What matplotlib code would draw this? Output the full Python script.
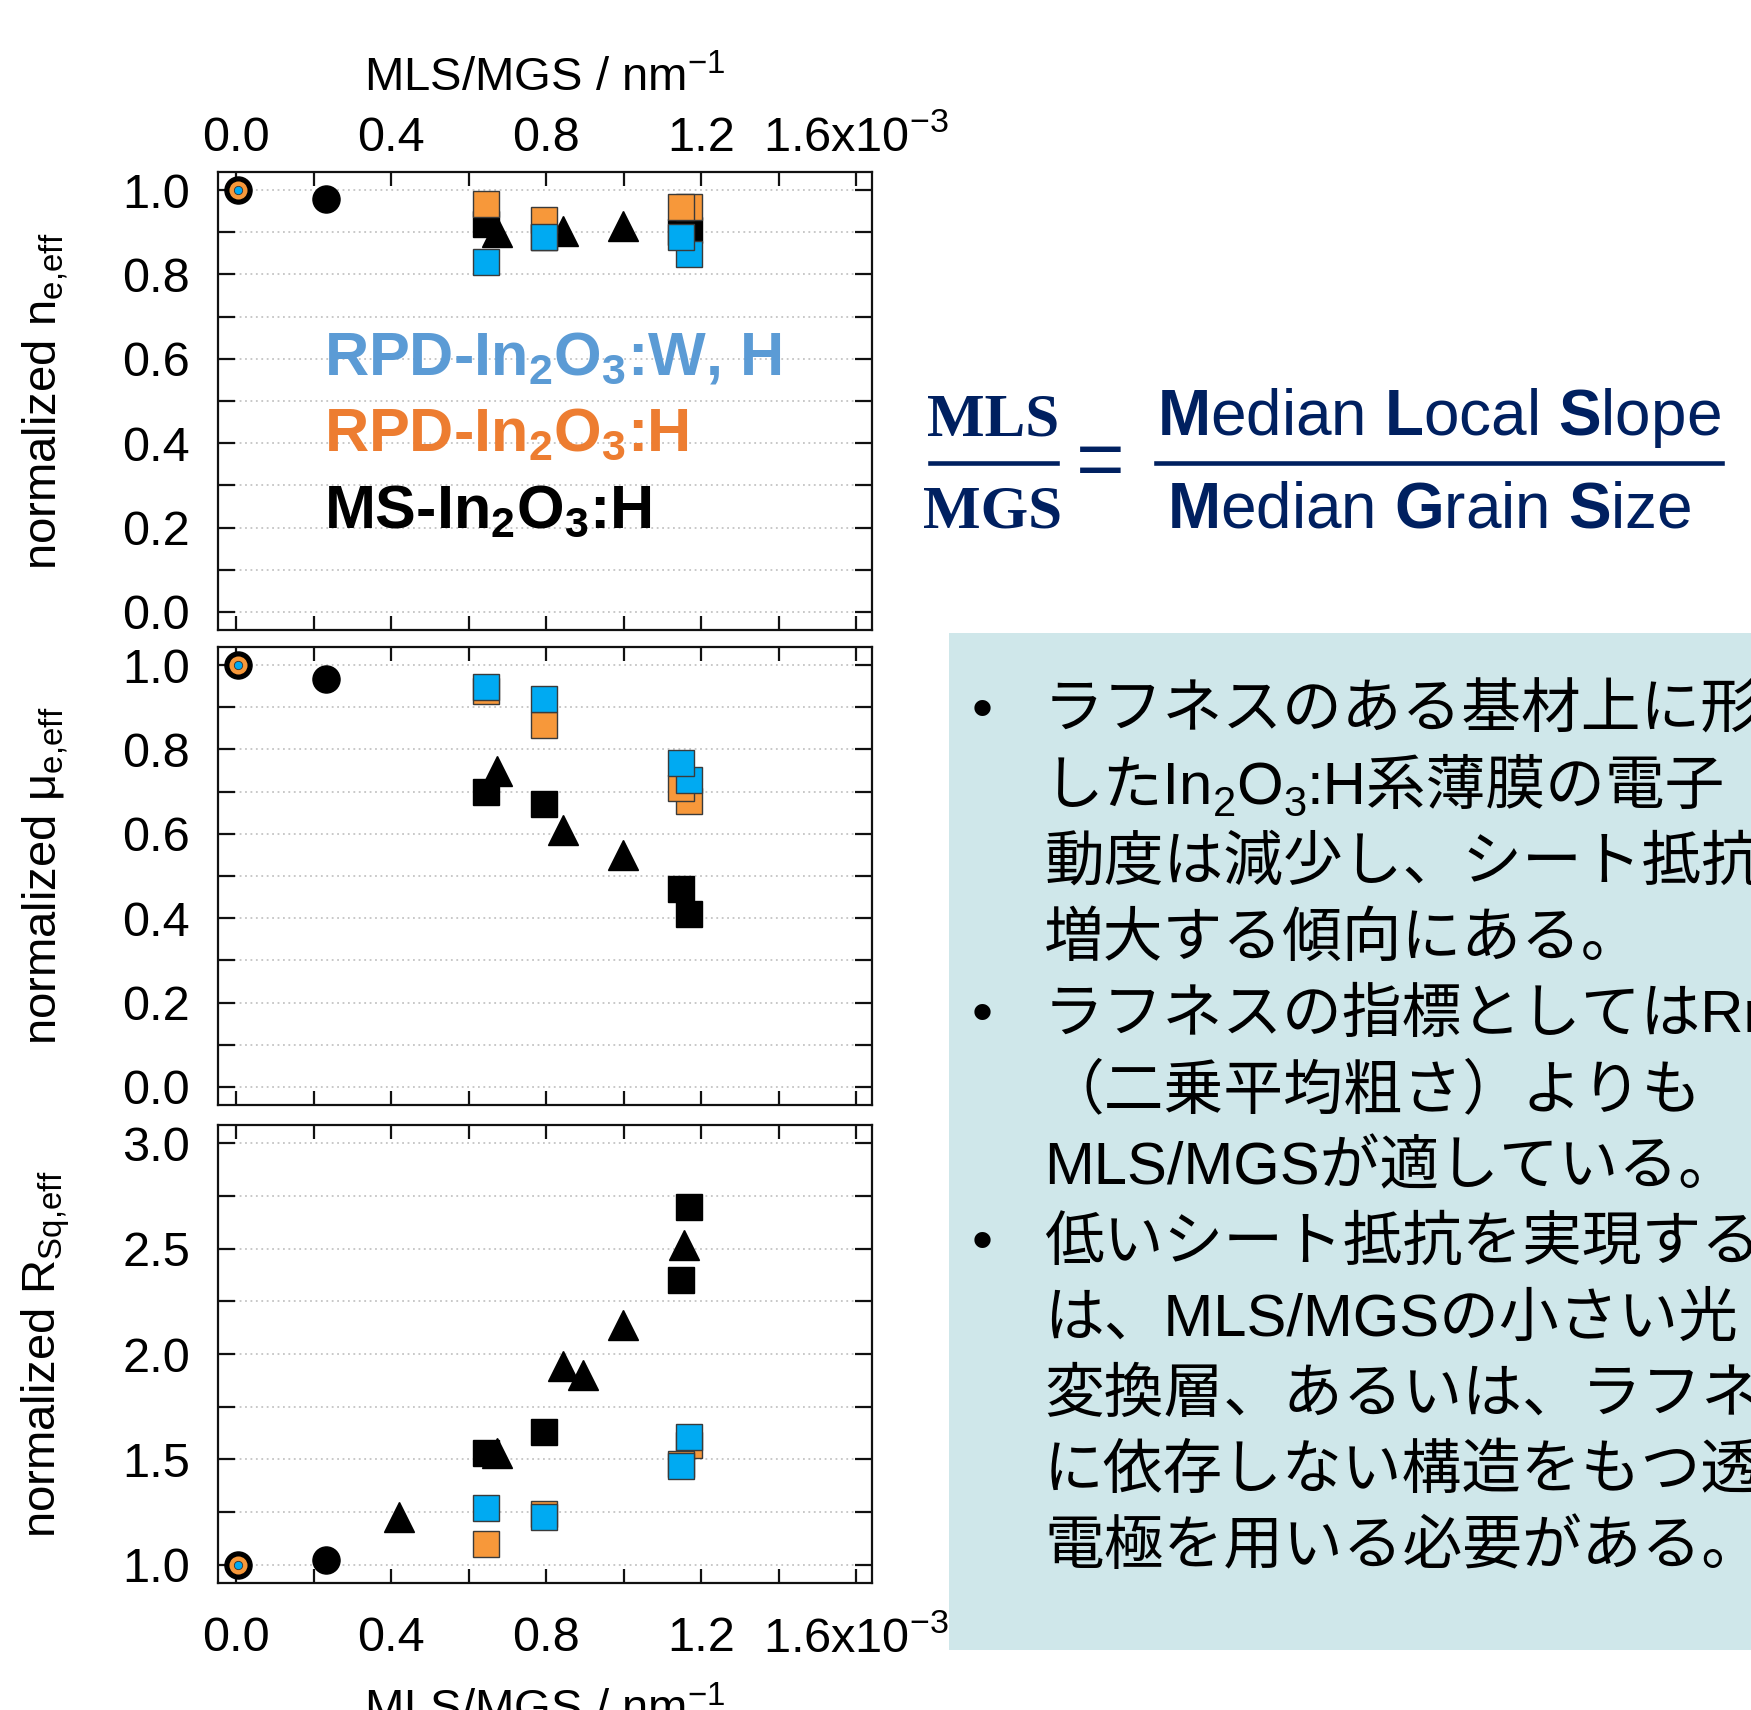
import matplotlib
matplotlib.use("Agg")
import matplotlib.pyplot as plt
from matplotlib.ticker import FixedLocator, FixedFormatter, MultipleLocator, FormatStrFormatter
from matplotlib.patches import Rectangle
from matplotlib.lines import Line2D

plt.rcParams['font.family'] = ['Liberation Sans', 'DejaVu Sans']
plt.rcParams['mathtext.fontset'] = 'custom'
plt.rcParams['mathtext.rm'] = 'Liberation Sans'
plt.rcParams['mathtext.bf'] = 'Liberation Sans:bold'
plt.rcParams['mathtext.it'] = 'Liberation Sans:italic'

# x values in units of 1e-3 nm^-1
ref_x = [0.005]
ref_y = [1.0]

# MS-In2O3:H, round marker
ms_circ_x = [0.233]
ms_circ_ne = [0.979]
ms_circ_mu = [0.968]
ms_circ_rsq = [1.02]

# MS-In2O3:H, squares
ms_sq_x = [0.646, 0.795, 1.148, 1.169]
ms_sq_ne = [0.92, 0.89, 0.90, 0.905]
ms_sq_mu = [0.70, 0.67, 0.47, 0.41]
ms_sq_rsq = [1.53, 1.628, 2.349, 2.70]

# MS-In2O3:H, triangles
ms_tri_x_ne = [0.672, 0.844, 0.998]
ms_tri_ne = [0.90, 0.904, 0.916]
ms_tri_x_mu = [0.672, 0.844, 0.998]
ms_tri_mu = [0.749, 0.609, 0.549]
ms_tri_x_rsq = [0.419, 0.672, 0.844, 0.895, 0.998, 1.157]
ms_tri_rsq = [1.226, 1.53, 1.944, 1.90, 2.138, 2.518]

# RPD-In2O3:H (orange) and RPD-In2O3:W,H (blue)
rpd_x = [0.646, 0.795, 1.169, 1.148]
rpd_h_ne = [0.966, 0.929, 0.959, 0.959]
rpd_h_mu = [0.939, 0.858, 0.678, 0.709]
rpd_h_rsq = [1.10, 1.24, 1.569, 1.48]
rpd_w_ne = [0.83, 0.89, 0.848, 0.889]
rpd_w_mu = [0.949, 0.919, 0.728, 0.769]
rpd_w_rsq = [1.269, 1.226, 1.606, 1.47]

x_ticks = [0.0, 0.4, 0.8, 1.2, 1.6]
x_ticklabels = ['0.0', '0.4', '0.8', '1.2', r'$\mathregular{1.6x10^{-3}}$']

ORANGE = '#F7983A'
BLUE = '#00AAF2'
NAVY = '#002060'

W, H = 1751, 1710
fig = plt.figure(figsize=(W / 100, H / 100), dpi=100)


def fx(px):
    return px / W


def fy(py):
    return 1 - py / H


def make_axes(top, bottom):
    return fig.add_axes([fx(218), fy(bottom), fx(872) - fx(218), (bottom - top) / H])


def style_axes(ax, ylim, ymajor, yminor):
    ax.set_xlim(-0.047, 1.641)
    ax.set_ylim(*ylim)
    ax.xaxis.set_major_locator(FixedLocator(x_ticks))
    ax.xaxis.set_major_formatter(FixedFormatter(x_ticklabels))
    ax.xaxis.set_minor_locator(FixedLocator([0.2, 0.6, 1.0, 1.4]))
    ax.yaxis.set_major_locator(MultipleLocator(ymajor))
    ax.yaxis.set_minor_locator(MultipleLocator(yminor))
    ax.yaxis.set_major_formatter(FormatStrFormatter('%.1f'))
    ax.tick_params(axis='both', which='both', direction='in', top=True, right=True,
                   width=1.6, colors='#111111', labelcolor='black', labelsize=35)
    ax.tick_params(axis='x', which='both', length=10)
    ax.tick_params(axis='y', which='both', length=12, pad=20)
    ax.tick_params(axis='x', labelbottom=False, labeltop=False)
    for sp in ax.spines.values():
        sp.set_linewidth(1.6)
        sp.set_color('#111111')
    ax.grid(axis='y', which='both', linestyle=(0, (1, 2)), color='#c4c4c4', lw=1.3)
    ax.set_axisbelow(True)


def draw_points(ax, circ_y, sq_y, tri_x, tri_y, h_y, w_y):
    ax.plot(ms_circ_x, circ_y, 'o', ms=19.5, color='black', zorder=3)
    ax.plot(ms_sq_x, sq_y, 's', ms=19, color='black', zorder=3)
    ax.plot(tri_x, tri_y, '^', ms=21, color='black', zorder=3)
    ax.plot(rpd_x, h_y, 's', ms=19, mfc=ORANGE, mec='#3a3a3a', mew=1.0, zorder=4)
    ax.plot(rpd_x, w_y, 's', ms=19, mfc=BLUE, mec='#3a3a3a', mew=1.0, zorder=5)
    # reference point shared by all three series
    ax.plot(ref_x, ref_y, 'o', ms=19.5, color='black', zorder=6)
    ax.plot(ref_x, ref_y, 'o', ms=13, mfc=ORANGE, mec='none', zorder=7)
    ax.plot(ref_x, ref_y, 'o', ms=6, mfc=BLUE, mec='#333333', mew=0.6, zorder=8)


ax1 = make_axes(172, 630)
ax2 = make_axes(647, 1105)
ax3 = make_axes(1125, 1583)

style_axes(ax1, (-0.043, 1.043), 0.2, 0.1)
style_axes(ax2, (-0.043, 1.043), 0.2, 0.1)
style_axes(ax3, (0.913, 3.087), 0.5, 0.25)
ax1.tick_params(axis='x', labeltop=True, pad=8)
ax3.tick_params(axis='x', labelbottom=True, pad=24)

draw_points(ax1, ms_circ_ne, ms_sq_ne, ms_tri_x_ne, ms_tri_ne, rpd_h_ne, rpd_w_ne)
draw_points(ax2, ms_circ_mu, ms_sq_mu, ms_tri_x_mu, ms_tri_mu, rpd_h_mu, rpd_w_mu)
draw_points(ax3, ms_circ_rsq, ms_sq_rsq, ms_tri_x_rsq, ms_tri_rsq, rpd_h_rsq, rpd_w_rsq)

# axis titles
fig.text(fx(545), fy(91.6), r'MLS/MGS / $\mathregular{nm^{-1}}$', ha='center', va='baseline', fontsize=34)
fig.text(fx(545), fy(1723), r'MLS/MGS / $\mathregular{nm^{-1}}$', ha='center', va='baseline', fontsize=34)
ylabels = [r'normalized $\mathregular{n_{e{,}eff}}$',
           r'normalized $\mathregular{μ_{e{,}eff}}$',
           r'normalized $\mathregular{R_{Sq{,}eff}}$']
for lab, (t, b) in zip(ylabels, [(172, 630), (647, 1105), (1125, 1583)]):
    fig.text(fx(46), fy((t + b) / 2), lab, rotation=90, ha='center', va='center', fontsize=34)

# series labels
series_labels = [r'RPD-In$\mathregular{_2}$O$\mathregular{_3}$:W, H',
                 r'RPD-In$\mathregular{_2}$O$\mathregular{_3}$:H',
                 r'MS-In$\mathregular{_2}$O$\mathregular{_3}$:H']
series_colors = ['#5B9BD5', '#ED7D31', 'black']
for i, (lab, c) in enumerate(zip(series_labels, series_colors)):
    fig.text(fx(324), fy(374 + 76.5 * i), lab, color=c, fontsize=44, fontweight='bold',
             ha='left', va='baseline')

# MLS / MGS definition
fig.text(fx(993), fy(435.5), 'MLS', family='Liberation Serif', fontweight='bold',
         fontsize=44, color=NAVY, ha='center', va='baseline')
fig.text(fx(993), fy(527), 'MGS', family='Liberation Serif', fontweight='bold',
         fontsize=44, color=NAVY, ha='center', va='baseline')
fig.text(fx(1100), fy(487), '=', fontsize=60, color=NAVY, ha='center', va='baseline')
fig.text(fx(1439), fy(435.5), r'$\mathbf{M}$edian $\mathbf{L}$ocal $\mathbf{S}$lope',
         fontsize=46, color=NAVY, ha='center', va='baseline')
fig.text(fx(1429), fy(527), r'$\mathbf{M}$edian $\mathbf{G}$rain $\mathbf{S}$ize',
         fontsize=46, color=NAVY, ha='center', va='baseline')
fig.add_artist(Line2D([fx(930), fx(1057)], [fy(463), fy(463)], color=NAVY, lw=3.3))
fig.add_artist(Line2D([fx(1156), fx(1722)], [fy(463), fy(463)], color=NAVY, lw=3.3))

# summary box
fig.add_artist(Rectangle((fx(949), fy(1650)), 1 - fx(949), (1650 - 633) / H,
                         facecolor='#CFE7EA', edgecolor='none', zorder=0))

jp_family = ['Liberation Sans', 'Noto Sans CJK JP', 'DejaVu Sans']
JP_SIZE = 43
renderer = fig.canvas.get_renderer()


def put_runs(x, y, runs):
    # draw consecutive text pieces (for subscripts inside CJK text)
    for s, size, dy in runs:
        t = fig.text(x, y + dy, s, fontsize=size, family=jp_family, ha='left', va='baseline')
        x = t.get_window_extent(renderer).x1 / W


jp_lines = [
    'ラフネスのある基材上に形',
    None,
    '動度は減少し、シート抵抗は',
    '増大する傾向にある。',
    'ラフネスの指標としてはRm',
    '（二乗平均粗さ）よりも',
    'MLS/MGSが適している。',
    '低いシート抵抗を実現する',
    'は、MLS/MGSの小さい光',
    '変換層、あるいは、ラフネス',
    'に依存しない構造をもつ透',
    '電極を用いる必要がある。',
]
bullet_rows = [0, 4, 7]

for i, line in enumerate(jp_lines):
    base = 728 + 76 * i
    if i in bullet_rows:
        fig.text(fx(982), fy(base), '•', fontsize=JP_SIZE, family=jp_family,
                 ha='center', va='baseline')
    if line is None:
        sub = -12 / H
        put_runs(fx(1044), fy(base), [('したIn', JP_SIZE, 0), ('2', 30, sub), ('O', JP_SIZE, 0),
                                      ('3', 30, sub), (':H系薄膜の電子', JP_SIZE, 0)])
    else:
        fig.text(fx(1044), fy(base), line, fontsize=JP_SIZE, family=jp_family,
                 ha='left', va='baseline')

fig.savefig('out.png', dpi=100)
